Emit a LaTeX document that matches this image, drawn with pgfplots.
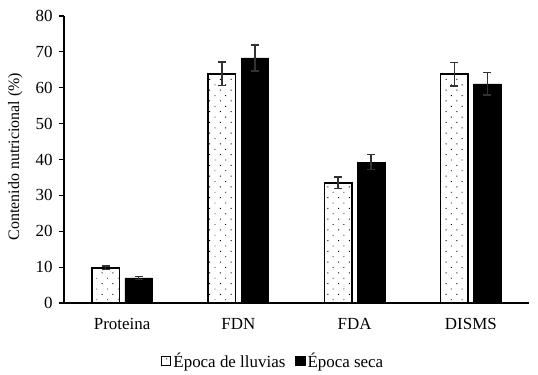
\documentclass[border=0pt]{standalone}
\usepackage{pgfplots}
\pgfplotsset{compat=1.18}
\usepackage{fontspec}
\setmainfont{Liberation Serif}
\usetikzlibrary{patterns.meta}
\definecolor{errgray}{RGB}{50,50,50}
\begin{document}
\begin{tikzpicture}
\path (-64bp,-72bp) rectangle (474bp,303bp);
\begin{axis}[
  at={(0,0)}, anchor=south west,
  scale only axis,
  width=465bp, height=287bp,
  font=\fontsize{17}{20}\selectfont,
  /pgf/number format/assume math mode=true,
  ybar=5.5bp, bar width=27.5bp,
  xmin=-0.5, xmax=3.5,
  ymin=0, ymax=80,
  ytick={0,10,...,80},
  xtick=data,
  xticklabels={Proteina,FDN,FDA,DISMS},
  axis x line=bottom, axis y line=left,
  axis line style={-, line width=1.4bp, black},
  x tick style={draw=none},
  y tick style={line width=1.2bp, black},
  tick align=outside,
  major tick length=5bp,
  yticklabel style={xshift=-3bp},
  xticklabel style={yshift=-7bp},
  ylabel={Contenido nutricional (\%)},
  ylabel style={at={(axis description cs:-0.105,0.51)}, anchor=center, rotate=0, font=\fontsize{16}{19}\selectfont},
  legend style={at={(axis description cs:0.45,-0.202)}, anchor=center, draw=none,
    /tikz/every even column/.append style={column sep=8bp}},
  legend columns=2,
  legend image code/.code={\draw[#1, line width=1.2bp] (0bp,-4.5bp) rectangle (9bp,4.5bp);},
  error bars/error bar style={errgray, line width=1.3bp},
  error bars/error mark options={rotate=90, mark size=4bp, errgray, line width=1.3bp},
]
\addplot[draw=black, line width=1.5bp, pattern={Dots[distance=7.6bp, angle=45, radius=0.65bp]},
  error bars/.cd, y dir=both, y explicit]
  coordinates {(0,9.8) +- (0,0.5) (1,63.9) +- (0,3.3) (2,33.5) +- (0,1.6) (3,63.8) +- (0,3.3)};
\addplot[draw=black, fill=black,
  error bars/.cd, y dir=both, y explicit]
  coordinates {(0,7.0) +- (0,0.4) (1,68.3) +- (0,3.6) (2,39.3) +- (0,2.1) (3,61.1) +- (0,3.1)};
\legend{Época de lluvias, Época seca}
\end{axis}
\end{tikzpicture}
\end{document}
